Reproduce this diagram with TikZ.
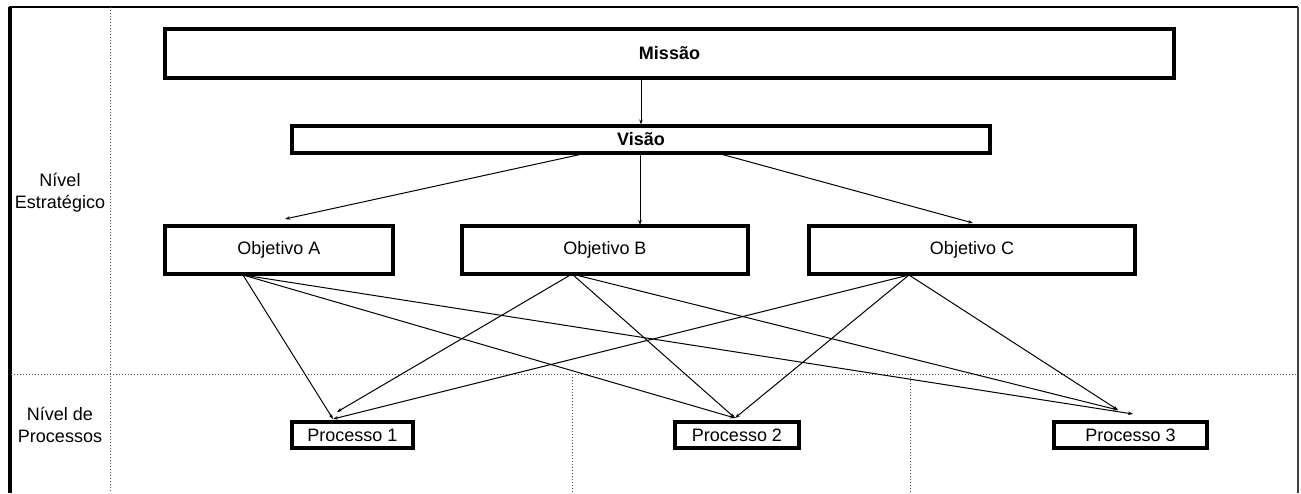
\documentclass[tikz,border=0pt]{standalone}
\usepackage{fontspec}
\setmainfont{Liberation Sans}
\usetikzlibrary{arrows.meta}
\begin{document}
\begin{tikzpicture}[x=1pt,y=-1pt,
  txt/.style={font=\fontsize{18}{22}\selectfont},
  box/.style={draw,line width=3.2pt,inner sep=0pt,txt},
  arr/.style={-{Stealth[length=5pt,width=3.5pt]},line width=1pt},
  grid/.style={dotted,line width=1pt,black!70}]
\useasboundingbox (0,0) rectangle (1301,493);
% frame
\draw[line width=1.5pt] (9,7) -- (1298,7);
\draw[line width=3.2pt] (10,7) -- (10,493);
\draw[line width=2pt,black!75] (1298,7) -- (1298,493);
\draw[grid] (110,7) -- (110,493);
\draw[grid] (11,374) -- (1297,374);
\draw[grid] (572,374) -- (572,493);
\draw[grid] (910,374) -- (910,493);
% labels
\node[txt,align=center] (ne) at (60,193) {Nível\\Estratégico};
\node[txt,align=center] (np) at (60,425) {Nível de\\Processos};
% boxes
\node[box,minimum width=1009pt,minimum height=49pt] (m) at (669.5,53.5) {\bfseries Missão};
\node[box,minimum width=698pt,minimum height=27pt] (v) at (641,139.5) {\bfseries Visão};
\node[box,minimum width=228pt,minimum height=48pt] (oa) at (279,250) {Objetivo A};
\node[box,minimum width=286pt,minimum height=48pt] (ob) at (605,250) {Objetivo B};
\node[box,minimum width=326pt,minimum height=48pt] (oc) at (972,250) {Objetivo C};
\node[box,minimum width=121pt,minimum height=26pt] (p1) at (352.5,435) {Processo 1};
\node[box,minimum width=124pt,minimum height=26pt] (p2) at (737,435) {Processo 2};
\node[box,minimum width=153pt,minimum height=26pt] (p3) at (1130.5,435) {Processo 3};
% connector end points
\coordinate (vA) at (587,153);
\coordinate (vB) at (640,153);
\coordinate (vC) at (717,153);
\coordinate (tA) at (285,219);
\coordinate (tB) at (640,225);
\coordinate (tC) at (973,223);
\coordinate (sA) at (243,275);
\coordinate (sB) at (572,274);
\coordinate (sC) at (909,275);
\coordinate (a1) at (333,419);
\coordinate (b1) at (337,412);
\coordinate (c1) at (333,419);
\coordinate (a2) at (735,418);
\coordinate (b2) at (735,418);
\coordinate (c2) at (735,418);
\coordinate (a3) at (1133,414);
\coordinate (b3) at (1118,410);
\coordinate (c3) at (1118,410);
% connectors
\draw[arr] (v.north |- m.south) -- (v.north);
\draw[arr] (vA) -- (tA);
\draw[arr] (vB) -- (tB);
\draw[arr] (vC) -- (tC);
\draw[arr] (sA) -- (a1);
\draw[arr] (sA) -- (a2);
\draw[arr] (sA) -- (a3);
\draw[arr] (sB) -- (b1);
\draw[arr] (sB) -- (b2);
\draw[arr] (sB) -- (b3);
\draw[arr] (sC) -- (c1);
\draw[arr] (sC) -- (c2);
\draw[arr] (sC) -- (c3);
\end{tikzpicture}
\end{document}
